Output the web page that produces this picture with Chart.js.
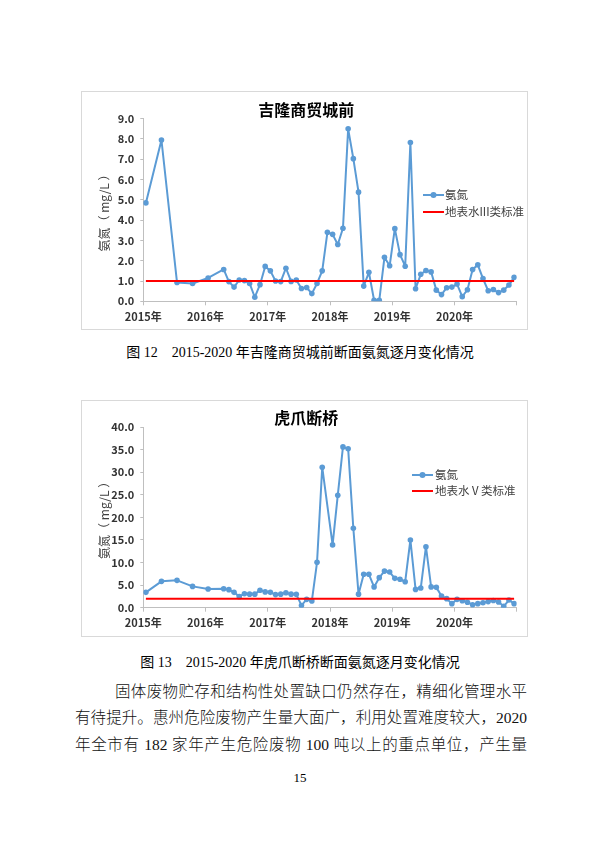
<!DOCTYPE html>
<html><head><meta charset="utf-8">
<script src="https://cdn.jsdelivr.net/npm/chart.js@4/dist/chart.umd.min.js"></script>
<style>
html,body{margin:0;padding:0;background:#fff;}
body{width:600px;height:848px;position:relative;overflow:hidden;font-family:"Noto Sans CJK SC",sans-serif;}
.box{position:absolute;left:81px;width:447px;border:1px solid #d9d9d9;box-sizing:border-box;background:#fff;}
.box canvas{position:absolute;left:0;top:0;}
.cap{position:absolute;left:0;width:600px;text-align:center;font-family:"Liberation Serif","Noto Sans CJK SC",serif;font-size:14px;color:#000;line-height:20px;white-space:pre;}
.line{position:absolute;font-family:"Liberation Serif","Noto Sans CJK SC",serif;font-size:15.5px;font-weight:300;line-height:22px;color:#111;text-align:justify;text-align-last:justify;white-space:nowrap;}
.pg{position:absolute;left:0;width:600px;text-align:center;font-family:"Liberation Serif",serif;font-size:13px;line-height:16px;}
</style>
</head><body>
<div class="box" style="top:91px;height:239px;"><canvas id="c1" width="445" height="237"></canvas></div>
<div class="cap" style="top:343px;">图 12　2015-2020 年吉隆商贸城前断面氨氮逐月变化情况</div>
<div class="box" style="top:400px;height:237px;"><canvas id="c2" width="445" height="235"></canvas></div>
<div class="cap" style="top:653px;">图 13　2015-2020 年虎爪断桥断面氨氮逐月变化情况</div>
<div class="line" style="left:115px;width:412px;top:681px;">固体废物贮存和结构性处置缺口仍然存在，精细化管理水平</div>
<div class="line" style="left:75px;width:452px;top:707px;">有待提升。惠州危险废物产生量大面广，利用处置难度较大，2020</div>
<div class="line" style="left:75px;width:452px;top:734px;">年全市有 182 家年产生危险废物 100 吨以上的重点单位，产生量</div>
<div class="pg" style="top:770px;">15</div>
<script>
// ---- Data ----
const yearLabels = ['2015年','2016年','2017年','2018年','2019年','2020年'];

const dates1 = ['2015-01','2015-04','2015-07','2015-10',
  '2016-01','2016-04','2016-05','2016-06','2016-07','2016-08','2016-09','2016-10','2016-11','2016-12',
  '2017-01','2017-02','2017-03','2017-04','2017-05','2017-06','2017-07','2017-08','2017-09','2017-10','2017-11','2017-12',
  '2018-01','2018-02','2018-03','2018-04','2018-05','2018-06','2018-07','2018-08','2018-09','2018-10','2018-11','2018-12',
  '2019-01','2019-02','2019-03','2019-04','2019-05','2019-06','2019-07','2019-08','2019-09','2019-10','2019-11','2019-12',
  '2020-01','2020-02','2020-03','2020-04','2020-05','2020-06','2020-07','2020-08','2020-09','2020-10','2020-11','2020-12'];
const nh3n1 = [4.85,7.95,0.93,0.88,
  1.15,1.57,0.97,0.70,1.05,1.02,0.88,0.20,0.82,1.72,
  1.50,1.00,0.97,1.63,0.98,1.05,0.63,0.68,0.38,0.88,1.50,3.40,
  3.30,2.80,3.60,8.50,7.03,5.38,0.75,1.43,0.05,0.05,2.17,1.75,
  3.58,2.30,1.73,7.83,0.62,1.33,1.52,1.45,0.55,0.33,0.67,0.70,
  0.85,0.23,0.57,1.57,1.80,1.12,0.52,0.58,0.43,0.55,0.80,1.18];
const std1 = 1.0;

const dates2 = ['2015-01','2015-04','2015-07','2015-10',
  '2016-01','2016-04','2016-05','2016-06','2016-07','2016-08','2016-09','2016-10','2016-11','2016-12',
  '2017-01','2017-02','2017-03','2017-04','2017-05','2017-06','2017-07','2017-08','2017-09','2017-10','2017-11',
  '2018-01','2018-02','2018-03','2018-04','2018-05','2018-06','2018-07','2018-08','2018-09','2018-10','2018-11','2018-12',
  '2019-01','2019-02','2019-03','2019-04','2019-05','2019-06','2019-07','2019-08','2019-09','2019-10','2019-11','2019-12',
  '2020-01','2020-02','2020-03','2020-04','2020-05','2020-06','2020-07','2020-08','2020-09','2020-10','2020-11','2020-12'];
const nh3n2 = [3.4,5.83,6.05,4.72,
  4.13,4.2,4.0,3.4,2.45,3.1,3.0,3.0,3.85,3.5,
  3.4,2.9,3.0,3.3,3.0,2.95,0.5,1.85,1.5,10.05,31.1,
  13.9,24.9,35.6,35.2,17.6,3.0,7.4,7.4,4.6,6.65,8.1,7.9,
  6.5,6.3,5.75,15.0,4.05,4.35,13.5,4.6,4.5,2.6,2.0,0.9,
  1.85,1.55,1.2,0.65,0.9,1.1,1.35,1.6,1.25,0.3,1.7,0.9];
const std2 = 2.0;

// ---- Helpers ----
function toX(d){const [y,m]=d.split('-').map(Number);return (y-2015)*12+(m-1)+0.5;}

const legendPlugin = {
  id:'customLegend',
  afterDraw(chart, args, opts){
    const ctx = chart.ctx; ctx.save();
    ctx.font = '11.5px "Noto Sans CJK SC"'; ctx.textBaseline = 'middle';
    ctx.strokeStyle = '#5b9bd5'; ctx.lineWidth = 2;
    ctx.beginPath(); ctx.moveTo(opts.x0, opts.y1); ctx.lineTo(opts.x1, opts.y1); ctx.stroke();
    ctx.fillStyle = '#5b9bd5'; ctx.beginPath(); ctx.arc((opts.x0+opts.x1)/2, opts.y1, 3, 0, Math.PI*2); ctx.fill();
    ctx.fillStyle = '#404040'; ctx.fillText(chart.data.datasets[0].label, opts.tx, opts.y1);
    ctx.strokeStyle = '#ff0000'; ctx.lineWidth = 2;
    ctx.beginPath(); ctx.moveTo(opts.x0, opts.y2); ctx.lineTo(opts.x1, opts.y2); ctx.stroke();
    ctx.fillText(chart.data.datasets[1].label, opts.tx, opts.y2);
    ctx.restore();
  }
};

function makeChart(id, dates, vals, std, stdLabel, ymax, ystep, title, g){
  const pts = dates.map((d,i)=>({x:toX(d), y:vals[i]}));
  const stdPts = [{x:pts[0].x, y:std},{x:pts[pts.length-1].x, y:std}];
  const axisColor = '#bfbfbf';
  const tickFont = {family:'"Noto Sans CJK SC"', size:11, weight:'bold'};
  return new Chart(document.getElementById(id), {
    type:'line',
    data:{datasets:[
      {label:'氨氮', data:pts, borderColor:'#5b9bd5', backgroundColor:'#5b9bd5', borderWidth:2, borderJoinStyle:'round', borderCapStyle:'round',
       pointRadius:2.8, pointBorderWidth:0, pointBackgroundColor:'#5b9bd5', tension:0, order:1},
      {label:stdLabel, data:stdPts, borderColor:'#ff0000', borderWidth:2, pointRadius:0, tension:0, order:0}
    ]},
    options:{
      responsive:false, animation:false, events:[],
      layout:{padding:{left:g.padLeft, right:g.padRight, top:0, bottom:0}},
      plugins:{
        legend:{display:false}, tooltip:{enabled:false},
        title:{display:true, text:title, color:'#000', font:{family:'"Noto Sans CJK SC"', size:16, weight:'bold', lineHeight:1.2}, padding:{top:g.titleTop, bottom:g.titleBottom}},
        customLegend:g.legend
      },
      scales:{
        x:{type:'linear', min:0, max:72,
           ticks:{stepSize:12, color:'#333', font:tickFont, padding:5, maxRotation:0, autoSkip:false,
                  callback:(v)=> (v%12===0 && v/12 < yearLabels.length) ? yearLabels[v/12] : ''},
           grid:{drawOnChartArea:false, drawTicks:true, tickLength:4, color:axisColor},
           border:{color:axisColor, width:1},
           afterFit:(s)=>{s.height = g.xh;}},
        y:{min:0, max:ymax,
           ticks:{stepSize:ystep, color:'#333', font:tickFont, padding:6, callback:(v)=>Number(v).toFixed(1)},
           grid:{drawOnChartArea:false, drawTicks:true, tickLength:3, color:axisColor},
           border:{color:axisColor, width:1},
           title:{display:true, text:'氨氮（ mg/L ）', color:'#404040', font:{family:'"Noto Sans CJK SC"', size:12}, padding:{top:1,bottom:0}},
           afterFit:(s)=>{s.width = g.yw;}}
      }
    },
    plugins:[legendPlugin]
  });
}

makeChart('c1', dates1, nh3n1, std1, '地表水III类标准', 9, 1, '吉隆商贸城前',
  {padLeft:14, padRight:10.3, titleTop:8, titleBottom:-0.5, xh:27.7, yw:47.3,
   legend:{x0:341, x1:362, tx:363, y1:103, y2:120}});
makeChart('c2', dates2, nh3n2, std2, '地表水Ⅴ类标准', 40, 5, '虎爪断桥',
  {padLeft:14, padRight:10.3, titleTop:7, titleBottom:-0.2, xh:28.3, yw:47.3,
   legend:{x0:330, x1:351, tx:353, y1:74, y2:90}});
</script>
</body></html>
